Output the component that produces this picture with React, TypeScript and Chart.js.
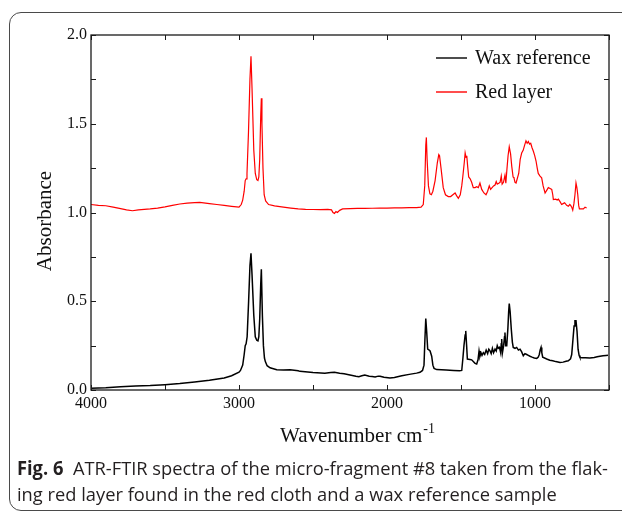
import React, { useEffect, useRef, useLayoutEffect, useState } from "react";
import { Chart, registerables } from "chart.js";

Chart.register(...registerables);

// ---- Data ----
const seriesLabels = ["Wax reference", "Red layer"];

const waxWavenumber = [
  4000, 3900, 3800, 3700, 3600, 3500, 3400, 3300, 3200, 3100, 3050, 3000, 2990, 2975, 2965, 2958, 2952, 2945, 2935, 2926,
  2919, 2912, 2900, 2890, 2880, 2872, 2866, 2860, 2853, 2849, 2842, 2835, 2828, 2822, 2810, 2790, 2745, 2700, 2655, 2600,
  2588, 2500, 2420, 2380, 2355, 2320, 2290, 2250, 2210, 2190, 2170, 2150, 2120, 2100, 2080, 2060, 2047, 2020, 1980, 1950,
  1900, 1850, 1800, 1777, 1760, 1750, 1744, 1738, 1732, 1725, 1715, 1709, 1698, 1690, 1682, 1664, 1600, 1550, 1510, 1495,
  1487, 1480, 1472, 1468, 1462, 1457, 1440, 1428, 1405, 1394, 1385, 1378, 1372, 1365, 1358, 1349, 1340, 1330, 1320, 1312,
  1304, 1296, 1288, 1280, 1270, 1262, 1255, 1248, 1240, 1232, 1228, 1225, 1220, 1212, 1206, 1203, 1198, 1191, 1183, 1178,
  1174, 1168, 1160, 1153, 1147, 1135, 1124, 1112, 1101, 1090, 1079, 1068, 1056, 1045, 1034, 1020, 1005, 988, 978, 971,
  965, 959, 954, 948, 935, 921, 900, 880, 860, 845, 831, 810, 790, 775, 760, 752, 745, 736, 730, 723,
  716, 709, 702, 696, 680, 660, 629, 600, 580, 561, 540, 520, 507,
];
const waxAbsorbance = [
  0.010, 0.012, 0.018, 0.022, 0.025, 0.030, 0.036, 0.045, 0.055, 0.068, 0.080, 0.100, 0.110, 0.140, 0.200, 0.250, 0.260, 0.300, 0.500, 0.700,
  0.770, 0.650, 0.420, 0.300, 0.280, 0.277, 0.300, 0.400, 0.600, 0.680, 0.420, 0.250, 0.180, 0.160, 0.137, 0.125, 0.114, 0.113, 0.114, 0.108,
  0.105, 0.098, 0.094, 0.098, 0.100, 0.095, 0.092, 0.085, 0.078, 0.075, 0.080, 0.085, 0.078, 0.076, 0.073, 0.078, 0.077, 0.072, 0.067, 0.070,
  0.080, 0.088, 0.095, 0.100, 0.110, 0.140, 0.280, 0.403, 0.330, 0.230, 0.225, 0.220, 0.190, 0.140, 0.122, 0.115, 0.112, 0.110, 0.108, 0.110,
  0.180, 0.250, 0.310, 0.333, 0.250, 0.174, 0.172, 0.170, 0.150, 0.146, 0.170, 0.220, 0.190, 0.210, 0.195, 0.210, 0.200, 0.225, 0.205, 0.230,
  0.220, 0.205, 0.235, 0.210, 0.230, 0.220, 0.250, 0.235, 0.240, 0.210, 0.260, 0.287, 0.210, 0.250, 0.300, 0.324, 0.250, 0.250, 0.350, 0.440,
  0.487, 0.440, 0.340, 0.270, 0.240, 0.235, 0.240, 0.225, 0.230, 0.215, 0.193, 0.205, 0.200, 0.195, 0.190, 0.185, 0.180, 0.178, 0.185, 0.200,
  0.225, 0.240, 0.210, 0.185, 0.180, 0.175, 0.168, 0.165, 0.160, 0.158, 0.155, 0.157, 0.162, 0.165, 0.175, 0.200, 0.270, 0.360, 0.390, 0.390,
  0.330, 0.230, 0.195, 0.183, 0.182, 0.182, 0.180, 0.183, 0.187, 0.190, 0.193, 0.195, 0.196,
];

const redWavenumber = [
  4000, 3950, 3900, 3850, 3800, 3760, 3720, 3680, 3640, 3600, 3550, 3500, 3450, 3400, 3350, 3300, 3265, 3200, 3150, 3100,
  3050, 3000, 2985, 2975, 2965, 2958, 2952, 2946, 2936, 2926, 2919, 2912, 2900, 2890, 2880, 2872, 2866, 2860, 2853, 2849,
  2845, 2838, 2830, 2820, 2800, 2760, 2700, 2650, 2600, 2550, 2500, 2450, 2400, 2375, 2365, 2355, 2345, 2335, 2320, 2300,
  2250, 2200, 2150, 2100, 2050, 2000, 1950, 1900, 1850, 1800, 1770, 1755, 1745, 1738, 1734, 1729, 1720, 1710, 1700, 1690,
  1675, 1660, 1650, 1645, 1635, 1620, 1605, 1586, 1570, 1555, 1540, 1530, 1518, 1505, 1495, 1488, 1478, 1472, 1466, 1461,
  1455, 1448, 1438, 1428, 1417, 1405, 1394, 1383, 1372, 1360, 1345, 1331, 1320, 1309, 1300, 1290, 1280, 1270, 1262, 1255,
  1245, 1236, 1228, 1222, 1213, 1203, 1197, 1190, 1182, 1174, 1165, 1157, 1148, 1142, 1135, 1128, 1120, 1110, 1100, 1090,
  1080, 1070, 1061, 1053, 1045, 1037, 1029, 1020, 1011, 1002, 993, 985, 978, 966, 955, 945, 932, 921, 910, 898,
  887, 880, 876, 860, 850, 842, 830, 820, 810, 800, 786, 775, 765, 759, 752, 745, 737, 730, 723, 717,
  711, 705, 700, 685, 673, 662, 651,
];
const redAbsorbance = [
  1.045, 1.040, 1.038, 1.030, 1.022, 1.015, 1.010, 1.015, 1.018, 1.020, 1.025, 1.032, 1.040, 1.048, 1.053, 1.056, 1.057, 1.050, 1.045, 1.040,
  1.035, 1.030, 1.045, 1.070, 1.120, 1.180, 1.190, 1.220, 1.450, 1.750, 1.880, 1.700, 1.350, 1.220, 1.185, 1.180, 1.200, 1.300, 1.550, 1.644,
  1.500, 1.250, 1.100, 1.065, 1.045, 1.037, 1.030, 1.025, 1.020, 1.018, 1.017, 1.016, 1.018, 1.015, 1.000, 0.995, 1.005, 1.000, 1.012, 1.020,
  1.022, 1.023, 1.023, 1.024, 1.025, 1.025, 1.026, 1.026, 1.027, 1.028, 1.030, 1.045, 1.150, 1.380, 1.423, 1.300, 1.150, 1.105, 1.100, 1.120,
  1.180, 1.280, 1.326, 1.320, 1.250, 1.140, 1.100, 1.090, 1.090, 1.100, 1.110, 1.095, 1.080, 1.100, 1.150, 1.200, 1.280, 1.335, 1.310, 1.320,
  1.260, 1.200, 1.190, 1.170, 1.140, 1.140, 1.145, 1.140, 1.166, 1.130, 1.110, 1.100, 1.120, 1.150, 1.130, 1.140, 1.150, 1.155, 1.175, 1.160,
  1.165, 1.170, 1.205, 1.160, 1.170, 1.210, 1.165, 1.240, 1.320, 1.370, 1.330, 1.260, 1.200, 1.195, 1.170, 1.166, 1.190, 1.220, 1.300, 1.335,
  1.350, 1.380, 1.404, 1.390, 1.400, 1.385, 1.390, 1.365, 1.345, 1.320, 1.290, 1.250, 1.220, 1.205, 1.195, 1.150, 1.110, 1.125, 1.140, 1.135,
  1.130, 1.100, 1.073, 1.075, 1.070, 1.075, 1.060, 1.045, 1.050, 1.055, 1.040, 1.035, 1.045, 1.040, 1.030, 1.013, 1.050, 1.100, 1.166, 1.140,
  1.100, 1.040, 1.020, 1.020, 1.020, 1.030, 1.025,
];

const xTickLabels = ["4000", "3000", "2000", "1000"];
const yTickLabels = ["0.0", "0.5", "1.0", "1.5", "2.0"];
const xTitle = "Wavenumber cm";
const xTitleSup = "-1";
const yTitle = "Absorbance";
const captionBold = "Fig. 6";
const captionLine1 = "ATR-FTIR spectra of the micro-fragment #8 taken from the flak-";
const captionLine2 = "ing red layer found in the red cloth and a wax reference sample";

const SERIF = "'Liberation Serif', 'Times New Roman', serif";

const decorPlugin = {
  id: "decor",
  afterDraw(chart: any) {
    const { ctx, chartArea, scales } = chart;
    const { left, right, top, bottom } = chartArea;
    const xs = scales.x;
    const ys = scales.y;
    ctx.save();
    // frame
    ctx.strokeStyle = "#1a1a1a";
    ctx.lineWidth = 1.3;
    ctx.strokeRect(left, top, right - left, bottom - top);
    // inward ticks on all four sides
    const tl = 5;
    ctx.beginPath();
    xs.ticks.forEach((t: any) => {
      const p = Math.round(xs.getPixelForValue(t.value)) + 0.5;
      ctx.moveTo(p, bottom);
      ctx.lineTo(p, bottom - tl);
      ctx.moveTo(p, top);
      ctx.lineTo(p, top + tl);
    });
    ys.ticks.forEach((t: any) => {
      const p = Math.round(ys.getPixelForValue(t.value)) + 0.5;
      ctx.moveTo(left, p);
      ctx.lineTo(left + tl, p);
      ctx.moveTo(right, p);
      ctx.lineTo(right - tl, p);
    });
    ctx.lineWidth = 1;
    ctx.stroke();

    // legend
    const ds = chart.data.datasets;
    const legendY = [58, 92];
    ctx.font = `20px ${SERIF}`;
    ctx.textBaseline = "middle";
    ctx.textAlign = "left";
    ds.forEach((d: any, i: number) => {
      ctx.beginPath();
      ctx.strokeStyle = d.borderColor;
      ctx.lineWidth = 1.4;
      ctx.moveTo(436, legendY[i]);
      ctx.lineTo(467, legendY[i]);
      ctx.stroke();
      ctx.fillStyle = "#111";
      ctx.fillText(d.label, 475, legendY[i] + 1);
    });

    // x title with superscript
    ctx.fillStyle = "#111";
    ctx.textBaseline = "alphabetic";
    ctx.font = `21px ${SERIF}`;
    const w = ctx.measureText(xTitle).width;
    const supFont = `14px ${SERIF}`;
    ctx.font = supFont;
    const ws = ctx.measureText(xTitleSup).width;
    const cx = (left + right) / 2 + 7;
    const startX = cx - (w + ws) / 2;
    ctx.font = `21px ${SERIF}`;
    ctx.fillText(xTitle, startX, 442);
    ctx.font = supFont;
    ctx.fillText(xTitleSup, startX + w + 1, 433);

    // y title
    ctx.translate(45, 221);
    ctx.rotate(-Math.PI / 2);
    ctx.font = `21px ${SERIF}`;
    ctx.textAlign = "center";
    ctx.textBaseline = "middle";
    ctx.fillText(yTitle, 0, 0);
    ctx.restore();
  },
};

function ChartView() {
  const ref = useRef<HTMLCanvasElement | null>(null);
  useEffect(() => {
    if (!ref.current) return;
    const chart = new Chart(ref.current, {
      type: "line",
      data: {
        datasets: [
          {
            label: seriesLabels[0],
            data: waxWavenumber.map((x, i) => ({ x, y: waxAbsorbance[i] })),
            borderColor: "#000000",
            borderWidth: 1.5,
            pointRadius: 0,
            tension: 0,
            fill: false,
          },
          {
            label: seriesLabels[1],
            data: redWavenumber.map((x, i) => ({ x, y: redAbsorbance[i] })),
            borderColor: "#ff0000",
            borderWidth: 1.2,
            pointRadius: 0,
            tension: 0,
            fill: false,
          },
        ],
      },
      options: {
        responsive: false,
        animation: false,
        layout: { padding: { top: 35, right: 13, left: 0, bottom: 0 } },
        plugins: { legend: { display: false }, tooltip: { enabled: false } },
        scales: {
          x: {
            type: "linear",
            reverse: true,
            min: 500,
            max: 4000,
            grid: { display: false, drawTicks: false },
            border: { display: false },
            ticks: {
              stepSize: 500,
              autoSkip: false,
              maxRotation: 0,
              padding: 4,
              color: "#111",
              font: { family: SERIF, size: 16 },
              callback: (v: any) => {
                const s = String(v);
                return xTickLabels.includes(s) ? s : "";
              },
            },
            afterFit: (s: any) => {
              s.height = 70;
            },
          },
          y: {
            type: "linear",
            min: 0,
            max: 2,
            grid: { display: false, drawTicks: false },
            border: { display: false },
            ticks: {
              stepSize: 0.25,
              autoSkip: false,
              padding: 4,
              color: "#111",
              font: { family: SERIF, size: 16 },
              callback: (v: any) => {
                const s = Number(v).toFixed(1);
                return Math.abs(Number(v) * 2 - Math.round(Number(v) * 2)) < 1e-6 && yTickLabels.includes(s) ? s : "";
              },
            },
            afterFit: (s: any) => {
              s.width = 91;
            },
          },
        },
      },
      plugins: [decorPlugin],
    });
    return () => chart.destroy();
  }, []);
  return <canvas ref={ref} width={622} height={460} style={{ position: "absolute", left: 0, top: 0, width: 622, height: 460 }} />;
}

export default function App() {
  const line1Ref = useRef<HTMLDivElement | null>(null);
  const [scale, setScale] = useState(1);
  useLayoutEffect(() => {
    if (line1Ref.current) {
      const w = line1Ref.current.offsetWidth;
      if (w > 0) setScale(591 / w);
    }
  }, []);
  const capStyle: React.CSSProperties = {
    position: "absolute",
    left: 17,
    whiteSpace: "nowrap",
    fontFamily: "'Open Sans', 'Noto Sans', sans-serif",
    fontSize: 19,
    lineHeight: "26px",
    color: "#231f20",
    transformOrigin: "0 0",
    transform: `scaleX(${scale})`,
  };
  return (
    <div style={{ position: "fixed", left: 0, top: 0, width: 622, height: 515, overflow: "hidden", background: "#fff" }}>
      <div
        style={{
          position: "absolute",
          left: 9,
          top: 12,
          width: 660,
          height: 499,
          border: "1.3px solid #4a4a4a",
          borderRadius: 12,
          boxSizing: "border-box",
        }}
      />
      <ChartView />
      <div ref={line1Ref} style={{ ...capStyle, top: 455 }}>
        <span style={{ fontWeight: 700 }}>{captionBold}</span>
        {"\u00a0\u00a0"}
        {captionLine1}
      </div>
      <div style={{ ...capStyle, top: 481 }}>{captionLine2}</div>
    </div>
  );
}
